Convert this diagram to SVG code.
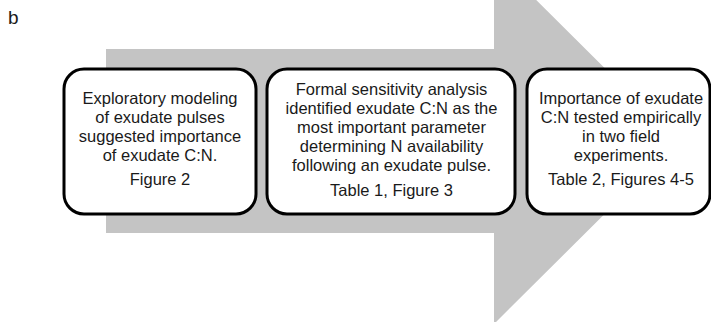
<svg xmlns="http://www.w3.org/2000/svg" width="711" height="322" viewBox="0 0 711 322">
  <style>
    .box { fill: #ffffff; stroke: #000000; stroke-width: 3; }
    .t { font-family: "Liberation Sans", Arial, sans-serif; font-size: 16.5px; fill: #1a1a1a; text-anchor: middle; }
    .lbl { font-family: "Liberation Sans", Arial, sans-serif; font-size: 19px; fill: #1a1a1a; }
  </style>
  <rect x="0" y="0" width="711" height="322" fill="#ffffff"/>
  <text class="lbl" x="8" y="24">b</text>
  <g id="connectors">
    <polygon id="big-arrow" points="106,49 494,49 494,-42 678,141 494,324 494,233 106,233" fill="#c4c4c4"/>
  </g>
  <g id="node-exploratory">
    <rect class="box" x="64" y="69" width="192" height="145" rx="20" ry="20"/>
    <text class="t" x="160" y="104">Exploratory modeling</text>
    <text class="t" x="160" y="123">of exudate pulses</text>
    <text class="t" x="160" y="142">suggested importance</text>
    <text class="t" x="160" y="161">of exudate C:N.</text>
    <text class="t" x="160" y="185">Figure 2</text>
  </g>
  <g id="node-sensitivity">
    <rect class="box" x="267" y="69" width="248" height="145" rx="20" ry="20"/>
    <text class="t" x="391.5" y="95">Formal sensitivity analysis</text>
    <text class="t" x="391.5" y="114">identified exudate C:N as the</text>
    <text class="t" x="391.5" y="133">most important parameter</text>
    <text class="t" x="391.5" y="152">determining N availability</text>
    <text class="t" x="391.5" y="171">following an exudate pulse.</text>
    <text class="t" x="391.5" y="196">Table 1, Figure 3</text>
  </g>
  <g id="node-empirical">
    <rect class="box" x="527" y="69" width="183" height="145" rx="20" ry="20"/>
    <text class="t" x="621" y="104">Importance of exudate</text>
    <text class="t" x="621" y="123">C:N tested empirically</text>
    <text class="t" x="621" y="142">in two field</text>
    <text class="t" x="621" y="161">experiments.</text>
    <text class="t" x="621" y="185">Table 2, Figures 4-5</text>
  </g>
</svg>
